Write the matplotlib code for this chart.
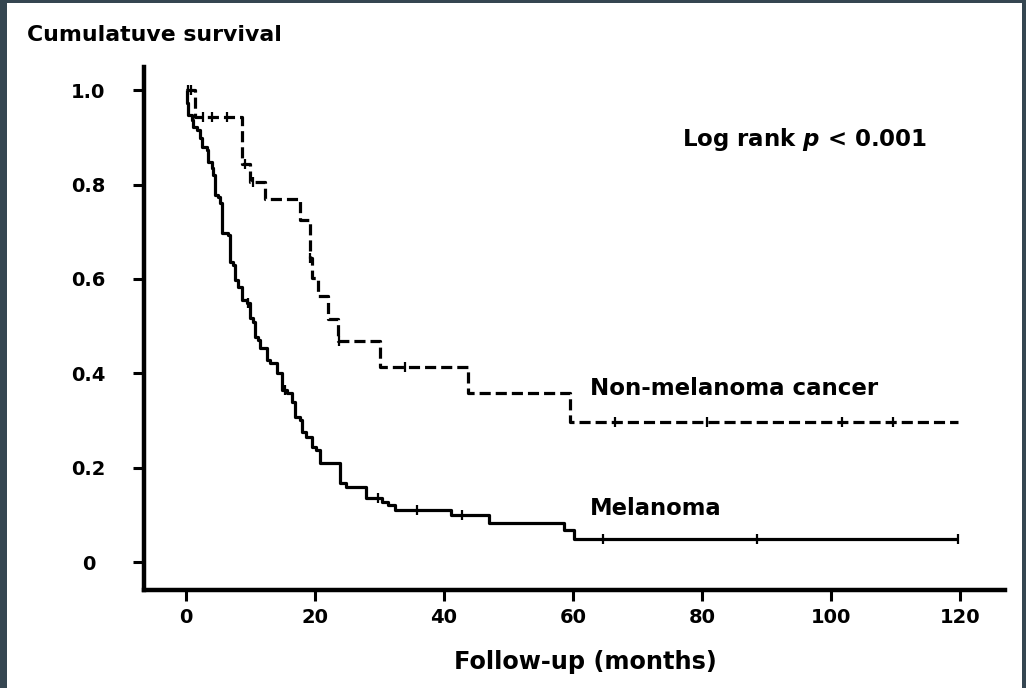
import matplotlib
matplotlib.use('Agg')
import matplotlib.pyplot as plt
from matplotlib.patches import Rectangle


# Kaplan-Meier steps: month of each drop, survival after it
melanomaTimes = [0, 0.2, 0.3, 0.9, 1.1, 1.7, 2.2, 2.5, 3.3, 3.4, 4.0, 4.2, 4.5, 5.0, 5.3, 5.6, 6.5,
                 6.8, 7.3, 7.6, 8.1, 8.7, 9.5, 9.9, 10.4, 10.7, 11.2, 11.5, 12.6, 13.0, 14.1, 14.9,
                 15.7, 16.4, 16.9, 17.7, 18.0, 18.6, 19.5, 20.2, 20.8, 23.9, 24.8, 27.9, 30.4, 31.3,
                 32.4, 41.1, 47.0, 58.6, 60.2]
melanomaSurv = [1.0, 0.972, 0.947, 0.936, 0.922, 0.915, 0.898, 0.879, 0.873, 0.847, 0.835, 0.820,
                0.778, 0.773, 0.761, 0.697, 0.693, 0.636, 0.629, 0.597, 0.583, 0.555, 0.549, 0.517,
                0.508, 0.477, 0.470, 0.453, 0.428, 0.422, 0.400, 0.364, 0.358, 0.339, 0.307, 0.301,
                0.275, 0.265, 0.244, 0.237, 0.210, 0.167, 0.159, 0.136, 0.127, 0.121, 0.110, 0.100,
                0.083, 0.068, 0.050]
melanomaCensored = [9.7, 15.3, 29.8, 35.8, 42.8, 64.6, 88.5, 119.7]
melanomaEnd = 119.7

otherTimes = [0, 1.4, 8.7, 9.9, 12.2, 17.7, 19.2, 19.6, 20.5, 22.0, 23.6, 30.1, 43.7, 59.5]
otherSurv = [1.0, 0.943, 0.843, 0.805, 0.769, 0.725, 0.644, 0.603, 0.564, 0.516, 0.468, 0.413,
             0.359, 0.297]
otherCensored = [0.3, 0.8, 2.6, 4.0, 6.4, 9.1, 10.4, 19.3, 23.8, 34.0, 66.5, 80.8, 101.7, 109.6]
otherEnd = 119.7

xTicks = [0, 20, 40, 60, 80, 100, 120]
yTicks = [0, 0.2, 0.4, 0.6, 0.8, 1.0]
yTickLabels = ['0', '0.2', '0.4', '0.6', '0.8', '1.0']


def levelAt(times, surv, t):
    level = surv[0]
    for ti, si in zip(times, surv):
        if ti <= t:
            level = si
    return level


def drawCurve(ax, times, surv, censored, end, style):
    xs = list(times) + [end]
    ys = list(surv) + [surv[-1]]
    ax.step(xs, ys, where='post', color='black', lw=2.3, linestyle=style,
            solid_capstyle='butt', dash_capstyle='butt')
    cy = [levelAt(times, surv, t) for t in censored]
    ax.plot(censored, cy, linestyle='none', marker='|', color='black', ms=7, mew=1.6)


def run():
    plt.rcParams['font.family'] = 'DejaVu Sans'
    plt.rcParams['font.weight'] = 'bold'
    plt.rcParams['lines.scale_dashes'] = False
    plt.rcParams['mathtext.fontset'] = 'custom'
    plt.rcParams['mathtext.it'] = 'DejaVu Sans:italic:bold'

    fig = plt.figure(figsize=(10.26, 6.88), dpi=100, facecolor='#354651')
    # white panel inside the dark frame
    fig.patches.append(Rectangle((7 / 1026, 0), 1015 / 1026, 685 / 688,
                                 transform=fig.transFigure, facecolor='white',
                                 edgecolor='none', zorder=-10))

    ax = fig.add_axes([144 / 1026, 1 - 590 / 688, (1005 - 144) / 1026, (590 - 67) / 688])
    ax.set_facecolor('none')

    drawCurve(ax, melanomaTimes, melanomaSurv, melanomaCensored, melanomaEnd, '-')
    drawCurve(ax, otherTimes, otherSurv, otherCensored, otherEnd, (0, (8, 3.6)))

    ax.set_xlim(-6.5, 127)
    ax.set_ylim(-0.059, 1.049)

    for side in ['top', 'right']:
        ax.spines[side].set_visible(False)
    for side in ['left', 'bottom']:
        ax.spines[side].set_linewidth(3.2)
        ax.spines[side].set_capstyle('projecting')

    ax.set_xticks(xTicks)
    ax.set_yticks(yTicks)
    ax.set_yticklabels(yTickLabels)
    ax.tick_params(axis='both', direction='out', length=8, width=2.2, labelsize=14)
    ax.tick_params(axis='x', pad=5)
    ax.tick_params(axis='y', pad=32)
    for lab in ax.get_yticklabels():
        lab.set_horizontalalignment('center')

    # annotations
    ax.text(76.9, 0.896, 'Log rank $p$ < 0.001', fontsize=16.5, fontweight='bold', va='center')
    ax.text(62.6, 0.367, 'Non-melanoma cancer', fontsize=16.5, fontweight='bold', va='center')
    ax.text(62.6, 0.114, 'Melanoma', fontsize=16.3, fontweight='bold', va='center')

    fig.text(27 / 1026, 1 - 35 / 688, 'Cumulatuve survival', fontsize=15.8, fontweight='bold',
             ha='left', va='center')
    fig.text(585 / 1026, 1 - 662 / 688, 'Follow-up (months)', fontsize=17.3, fontweight='bold',
             ha='center', va='center')

    fig.savefig('out.png', dpi=100, facecolor=fig.get_facecolor())


if __name__ == "__main__":
    run()
